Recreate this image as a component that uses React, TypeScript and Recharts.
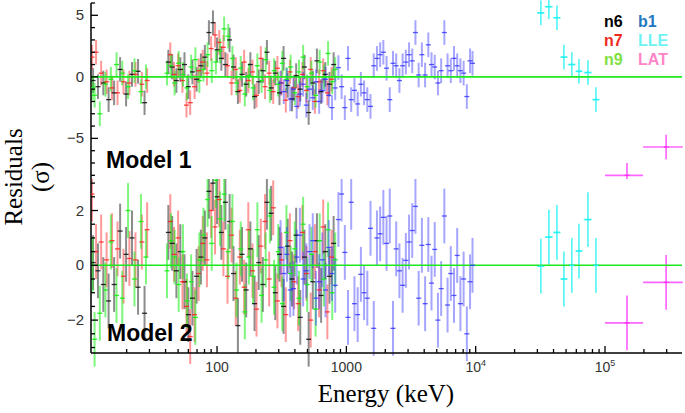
import React from "react"
import {
  ComposedChart,
  Scatter,
  ErrorBar,
  XAxis,
  YAxis,
  ReferenceLine,
} from "recharts"

// residuals are in units of sigma, so every y error bar is +-1
const SIGMA = 1

// ---- GBM NaI n6 ----
const n6Energy = [
  11.0, 12.0, 13.2, 14.5, 16.0, 17.8, 19.8, 22.0, 24.5, 27.5,
  42, 45, 48.5, 52, 56, 60, 64.5, 69.5, 75, 80.5, 86.5, 93, 100, 108, 116, 125, 134, 145, 156, 168,
  181, 195, 210, 226, 243, 262, 282, 304, 327, 352, 380, 409, 440, 474, 511, 550, 592, 638, 687, 740, 797,
]
const n6Model1 = [
  -0.3, -0.8, -0.5, -1.85, -1.3, 0.6, -1.4, 0.2, 0.45, -2.1,
  1.2, 0.8, -0.3, 0.6, 1.0, -0.8, 0.4, -0.2, 0.9, 1.6, 3.6, 4.4, 2.2, 1.5, 1.0, 3.0, 0.8, -1.2, 0.2, -0.6,
  1.0, -1.6, -0.4, 0.5, 2.0, -0.9, 0.3, -1.3, 1.5, -0.7, -1.8, 0.1, -1.0, 0.8, -2.9, -0.5, 1.3, -1.2, 0.2, -0.6, 1.0,
]
const n6Model2 = [
  0.1, -0.2, -0.7, -1.3, -0.7, 1.25, 0.4, 1.0, -0.8, -1.75,
  1.2, 0.8, -0.2, 0.5, -0.6, -1.8, -1.2, -0.4, 0.3, 1.0, 2.7, 3.0, 2.5, 1.2, 2.3, 1.6, -0.3, -2.2, 0.4, -0.9,
  0.6, -1.4, 0.1, -0.7, 2.3, 1.9, -1.0, 0.4, -1.5, 0.7, -0.5, 1.1, -1.9, 0.3, -2.7, -0.6, 0.9, -1.1, 0.5, -0.4, 0.8,
]

// ---- GBM NaI n7 ----
const n7Energy = [
  10.8, 11.6, 12.7, 14.0, 15.4, 17.0, 18.9, 21.0, 23.4, 26.2, 28.8,
  43.5, 46.5, 50, 54, 58, 62, 67, 72, 77.5, 83.5, 90, 96.5, 104, 112, 120.5, 129.5, 139.5, 150, 162, 174.5,
  188, 202, 218, 235, 253, 272, 293, 315, 340, 366, 394, 424, 457, 492, 530, 571, 615, 662, 713, 768,
]
const n7Model1 = [
  1.6, 2.0, 0.3, -0.4, -0.9, -1.3, -0.4, -0.5, 0.2, -0.6, -0.3,
  1.8, 0.2, 0.9, -0.3, -2.3, -2.1, -0.8, 0.5, 1.2, 0.3, 2.3, 3.4, 2.8, 2.4, 0.9, -0.5, 0.6, -1.1, 1.2, -0.3,
  0.4, -1.5, 1.5, -0.8, 0.3, -1.2, 0.7, -0.5, -1.9, 0.4, -0.9, -1.6, 0.2, -1.1, 0.6, -2.0, -0.4, 0.5, -1.3, -0.2,
]
const n7Model2 = [
  2.6, 0.5, 0.85, 0.2, 0.9, 0.6, -0.4, 0.25, 0.2, 0.85, 1.3,
  1.6, 0.4, 1.0, -0.6, -1.5, -2.6, -1.8, -0.3, 0.8, 0.2, 2.0, 1.4, 2.4, 0.6, -0.4, 1.1, -1.2, 0.3, -0.8, 1.3,
  -0.2, -1.6, 0.7, 1.6, -0.5, 2.1, -1.3, 0.2, -1.8, 0.9, -0.6, -1.4, 1.2, -0.3, -2.0, 0.5, -0.9, 1.4, -1.7, 0.3,
]

// ---- GBM NaI n9 ----
const n9Energy = [
  10.9, 11.3, 12.4, 13.7, 15.1, 16.7, 18.5, 20.5, 23.0, 25.8, 28.2,
  41, 44, 47, 50.5, 54.5, 58.5, 63, 68, 73, 78.5, 84.5, 91, 98, 105.5, 113.5, 122, 131.5, 141.5, 152.5, 164,
  176.5, 190, 205, 221, 238, 256, 276, 297, 320, 344, 371, 399, 430, 463, 498, 537, 578, 622, 670, 722, 778, 820,
]
const n9Model1 = [
  -0.9, -1.5, -3.0, -0.6, -0.2, 1.0, 0.3, -0.8, 0.5, -1.2, 0.0,
  0.3, 0.9, -0.5, 1.1, 0.2, -0.9, 0.8, 1.4, -0.3, 0.6, 1.8, 0.5, 1.2, 2.1, 3.9, 3.3, 1.5, -0.5, 0.7, -1.4,
  0.1, -0.9, 0.9, -0.3, 1.4, -1.1, 0.5, -0.6, 1.1, -0.2, 0.8, -1.3, 0.4, 1.6, -0.8, 0.3, -1.5, 1.2, 0.0, 1.9, -0.4, 0.6,
]
const n9Model2 = [
  0.0, -2.7, -1.75, -0.9, 0.85, -1.1, -1.2, 2.0, -0.5, 1.6, 0.3,
  -0.2, 0.9, 0.3, -0.7, 0.5, -1.3, -0.6, -1.9, 0.2, 1.1, 2.4, 0.8, 3.1, 1.7, 2.6, 0.5, 1.6, -0.9, 0.6, -1.7,
  0.3, -0.4, 1.3, -1.1, 0.2, 1.8, -0.8, 0.5, -1.4, 1.2, -0.3, 0.6, -1.2, 1.5, -0.7, 0.4, -1.6, 0.9, -0.5, 1.3, -1.0, 0.2,
]

// ---- GBM BGO b1 ----
const b1Energy = [
  310, 328, 347, 368, 390, 413, 437, 463, 490, 519, 550, 582, 616, 652, 690, 731, 774, 820, 868, 919,
  973, 1030, 1090, 1155, 1223, 1295, 1371, 1452, 1537, 1628, 1724, 1825, 1932, 2046, 2166, 2294, 2429, 2572, 2723, 2883,
  3053, 3232, 3422, 3624, 3837, 4063, 4302, 4555, 4823, 5107, 5407, 5725, 6062, 6419, 6796, 7196, 7620, 8068, 8543, 9045, 9450,
]
const b1Model1 = [
  -0.5, -1.2, -0.3, -1.8, -1.0, -2.4, -1.4, -0.6, -2.3, -1.0, -1.7, -0.4, -2.0, -1.1, -0.2, -1.5, -2.5, -0.9, 0.75, -0.8,
  -2.5, 1.5, -1.85, -1.1, -2.2, -0.6, -1.3, -1.85, -2.4, 0.9, 1.5, 1.8, 2.0, 0.7, -1.85, 1.1, 0.9, -0.3, 0.9, 1.2,
  1.8, 1.3, 3.6, 0.15, 1.8, 0.15, 2.6, 1.0, 0.8, -0.5, 0.5, 3.6, 0.9, 0.5, 1.5, 0.9, 0.5, 0.3, -1.6, 1.3, 1.1,
]
const b1Model2 = [
  0.65, -0.3, 0.4, -0.9, -0.85, 0.3, 1.1, -0.5, -0.2, 0.5, 0.9, -1.2, -0.6, 0.2, -0.9, 0.65, -0.3, -0.73, 1.67, 2.6,
  0.47, -1.9, 2.3, -1.4, -1.8, -0.33, -1.0, -1.2, 1.35, -2.3, 1.0, 1.15, 1.75, 0.8, 1.8, -2.3, 0.6, -0.2, -0.73, 0.18,
  0.85, 1.27, 2.15, -1.2, 0.73, -1.4, 0.76, -0.65, 0.58, -2.0, -0.85, 1.8, -1.45, -0.3, -1.1, 0.36, -1.4, -0.5, -2.5, -0.6, 0.0,
]

// ---- LAT LLE ----
const lleEnergy = [31900, 36800, 42500, 48100, 55400, 62900, 73800, 85100]
const lleLow = [29800, 34300, 39700, 45200, 51600, 59200, 68600, 79700]
const lleHigh = [34000, 39400, 45300, 51300, 59200, 67000, 79000, 90800]
const lleModel1 = [5.2, 5.7, 4.8, 1.6, 1.0, 0.45, 0.35, -1.85]
const lleModel2 = [-0.03, 1.03, 1.2, -0.5, 0.0, 0.52, 1.67, 0.0]

// ---- LAT standard ----
const latEnergy = [148000, 297000]
const latLow = [100000, 197000]
const latHigh = [197000, 400000]
const latModel1 = [-8.0, -5.7]
const latModel2 = [-2.1, -0.62]

// ---- axes ----
const X_DOMAIN = [10.6, 394000]
const X_MAJOR = [100, 1000, 10000, 100000]
const X_MINOR = [
  20, 30, 40, 50, 60, 70, 80, 90,
  200, 300, 400, 500, 600, 700, 800, 900,
  2000, 3000, 4000, 5000, 6000, 7000, 8000, 9000,
  20000, 30000, 40000, 50000, 60000, 70000, 80000, 90000,
  200000, 300000,
]
const X_TICKS = [...X_MINOR, ...X_MAJOR]

const TOP_DOMAIN = [-8.3, 6]
const TOP_TICKS = [-8, -7, -6, -5, -4, -3, -2, -1, 0, 1, 2, 3, 4, 5, 6]
const TOP_MAJOR = [-5, 0, 5]
const BOT_DOMAIN = [-3.2, 3.15]
const BOT_TICKS = [-3, -2.5, -2, -1.5, -1, -0.5, 0, 0.5, 1, 1.5, 2, 2.5, 3]
const BOT_MAJOR = [-2, 0, 2]

const SANS = "'Liberation Sans', Arial, Helvetica, sans-serif"
const SERIF = "'Liberation Serif', 'Times New Roman', serif"

function points(energy: number[], resid: number[], lo?: number[], hi?: number[]) {
  return energy.map((e, i) => ({
    x: e,
    y: resid[i],
    ey: SIGMA,
    ex: lo && hi ? [e - lo[i], hi[i] - e] : [0, 0],
  }))
}

type Series = { name: string; color: string; alpha: number; width: number; data: any[]; xerr?: boolean }

function seriesFor(model: 1 | 2): Series[] {
  const m = model === 1
  return [
    { name: "n6", color: "#000000", alpha: 0.45, width: 2, data: points(n6Energy, m ? n6Model1 : n6Model2) },
    { name: "n7", color: "#ff1a1a", alpha: 0.45, width: 2, data: points(n7Energy, m ? n7Model1 : n7Model2) },
    { name: "n9", color: "#14ee14", alpha: 0.55, width: 2, data: points(n9Energy, m ? n9Model1 : n9Model2) },
    { name: "b1", color: "#2a2aff", alpha: 0.42, width: 2, data: points(b1Energy, m ? b1Model1 : b1Model2) },
    { name: "LLE", color: "#22f2f2", alpha: 0.75, width: 1.7, data: points(lleEnergy, m ? lleModel1 : lleModel2, lleLow, lleHigh), xerr: true },
    { name: "LAT", color: "#ff33ff", alpha: 0.75, width: 1.7, data: points(latEnergy, m ? latModel1 : latModel2, latLow, latHigh), xerr: true },
  ]
}

function XTick(props: any) {
  const { x, y, payload, dir, labels } = props
  const v = payload.value
  const major = X_MAJOR.includes(v)
  const len = major ? 7 : 4
  let label: React.ReactNode = null
  if (labels && major) {
    label =
      v <= 1000 ? (
        <text x={x} y={y + 19} textAnchor="middle" fontFamily={SANS} fontSize={14} fill="#333">
          {v}
        </text>
      ) : (
        <text x={x} y={y + 19} textAnchor="middle" fontFamily={SANS} fontSize={14} fill="#333">
          10
          <tspan dy={-6} fontSize={9}>
            {Math.round(Math.log10(v))}
          </tspan>
        </text>
      )
  }
  return (
    <g>
      <line x1={x} x2={x} y1={y} y2={y + dir * len} stroke="#000" strokeWidth={1.3} />
      {label}
    </g>
  )
}

function YTick(props: any) {
  const { x, y, payload, dir, majors, labels } = props
  const v = payload.value
  const major = majors.includes(v)
  const len = major ? 7 : 4
  return (
    <g>
      <line x1={x} x2={x + dir * len} y1={y} y2={y} stroke="#000" strokeWidth={1.3} />
      {labels && major && (
        <text x={x - 7} y={y + 5} textAnchor="end" fontFamily={SANS} fontSize={15} fill="#333">
          {v < 0 ? "\u2212" + Math.abs(v) : v}
        </text>
      )}
    </g>
  )
}

interface PanelProps {
  top: number
  height: number
  marginTop: number
  xAxisHeight: number
  showXLabels: boolean
  yDomain: number[]
  yTicks: number[]
  yMajors: number[]
  topLine: number
  bottomLine: number
  series: Series[]
}

function Panel(p: PanelProps) {
  return (
    <div style={{ position: "absolute", left: 0, top: p.top }}>
      <ComposedChart
        width={685}
        height={p.height}
        margin={{ top: p.marginTop, right: 3, bottom: 0, left: 0 }}
      >
        <XAxis
          xAxisId="x"
          dataKey="x"
          type="number"
          scale="log"
          domain={X_DOMAIN}
          allowDataOverflow
          ticks={X_TICKS}
          interval={0}
          tickSize={0}
          tickMargin={0}
          tickLine={false}
          height={p.xAxisHeight}
          axisLine={{ stroke: "#000", strokeWidth: p.bottomLine }}
          tick={(t: any) => <XTick {...t} dir={-1} labels={p.showXLabels} />}
        />
        <XAxis
          xAxisId="xt"
          orientation="top"
          type="number"
          scale="log"
          domain={X_DOMAIN}
          allowDataOverflow
          ticks={X_TICKS}
          interval={0}
          tickSize={0}
          tickMargin={0}
          tickLine={false}
          height={0}
          axisLine={{ stroke: "#000", strokeWidth: p.topLine }}
          tick={(t: any) => <XTick {...t} dir={1} labels={false} />}
        />
        <YAxis
          yAxisId="y"
          dataKey="y"
          type="number"
          domain={p.yDomain}
          allowDataOverflow
          ticks={p.yTicks}
          interval={0}
          tickSize={0}
          tickMargin={0}
          tickLine={false}
          width={91}
          axisLine={{ stroke: "#000", strokeWidth: 1.5 }}
          tick={(t: any) => <YTick {...t} dir={1} majors={p.yMajors} labels />}
        />
        <YAxis
          yAxisId="yr"
          orientation="right"
          type="number"
          domain={p.yDomain}
          allowDataOverflow
          ticks={p.yTicks}
          interval={0}
          tickSize={0}
          tickMargin={0}
          tickLine={false}
          width={0}
          axisLine={{ stroke: "#000", strokeWidth: 1.5 }}
          tick={(t: any) => <YTick {...t} dir={-1} majors={p.yMajors} labels={false} />}
        />
        {p.series.map((s) => (
          <Scatter
            key={s.name}
            name={s.name}
            xAxisId="x"
            yAxisId="y"
            data={s.data}
            isAnimationActive={false}
            shape={(d: any) => (
              <line
                x1={d.cx - 2.5}
                x2={d.cx + 2.5}
                y1={d.cy}
                y2={d.cy}
                stroke={s.color}
                strokeOpacity={Math.min(1, s.alpha + 0.35)}
                strokeWidth={1.3}
              />
            )}
          >
            <ErrorBar
              dataKey="ey"
              direction="y"
              width={0}
              stroke={s.color}
              strokeOpacity={s.alpha}
              strokeWidth={s.width}
              isAnimationActive={false}
            />
            {s.xerr && (
              <ErrorBar
                dataKey="ex"
                direction="x"
                width={0}
                stroke={s.color}
                strokeOpacity={s.alpha}
                strokeWidth={s.width}
                isAnimationActive={false}
              />
            )}
          </Scatter>
        ))}
        <ReferenceLine xAxisId="x" yAxisId="y" y={0} stroke="#1ee81e" strokeWidth={1.6} />
      </ComposedChart>
    </div>
  )
}

const legend = [
  { name: "n6", color: "#000000", col: 0, row: 0 },
  { name: "n7", color: "#ee2a1c", col: 0, row: 1 },
  { name: "n9", color: "#80e040", col: 0, row: 2 },
  { name: "b1", color: "#1f78c0", col: 1, row: 0 },
  { name: "LLE", color: "#6ff2f2", col: 1, row: 1 },
  { name: "LAT", color: "#ff85c8", col: 1, row: 2 },
]

export default function App() {
  return (
    <div style={{ position: "absolute", left: 0, top: 0, width: 685, height: 413, background: "#fff" }}>
      <Panel
        top={0}
        height={179}
        marginTop={3}
        xAxisHeight={0}
        showXLabels={false}
        yDomain={TOP_DOMAIN}
        yTicks={TOP_TICKS}
        yMajors={TOP_MAJOR}
        topLine={1.5}
        bottomLine={2}
        series={seriesFor(1)}
      />
      <Panel
        top={179}
        height={234}
        marginTop={0}
        xAxisHeight={60}
        showXLabels
        yDomain={BOT_DOMAIN}
        yTicks={BOT_TICKS}
        yMajors={BOT_MAJOR}
        topLine={2}
        bottomLine={1.5}
        series={seriesFor(2)}
      />
      <svg
        width={685}
        height={413}
        style={{ position: "absolute", left: 0, top: 0, pointerEvents: "none" }}
      >
        <text transform="translate(22,177) rotate(-90)" textAnchor="middle" fontFamily={SERIF} fontSize={25}>
          Residuals
        </text>
        <text transform="translate(49,177) rotate(-90)" textAnchor="middle" fontFamily={SERIF} fontSize={25}>
          (σ)
        </text>
        <text x={386} y={402} textAnchor="middle" fontFamily={SERIF} fontSize={25}>
          Energy (keV)
        </text>
        <text x={106} y={168} fontFamily={SANS} fontWeight="bold" fontSize={23}>
          Model 1
        </text>
        <text x={107} y={341} fontFamily={SANS} fontWeight="bold" fontSize={23}>
          Model 2
        </text>
        {legend.map((l) => (
          <text
            key={l.name}
            x={l.col === 0 ? 604 : 638}
            y={27 + l.row * 19}
            fontFamily={SANS}
            fontWeight="bold"
            fontSize={16}
            fill={l.color}
          >
            {l.name}
          </text>
        ))}
      </svg>
    </div>
  )
}
